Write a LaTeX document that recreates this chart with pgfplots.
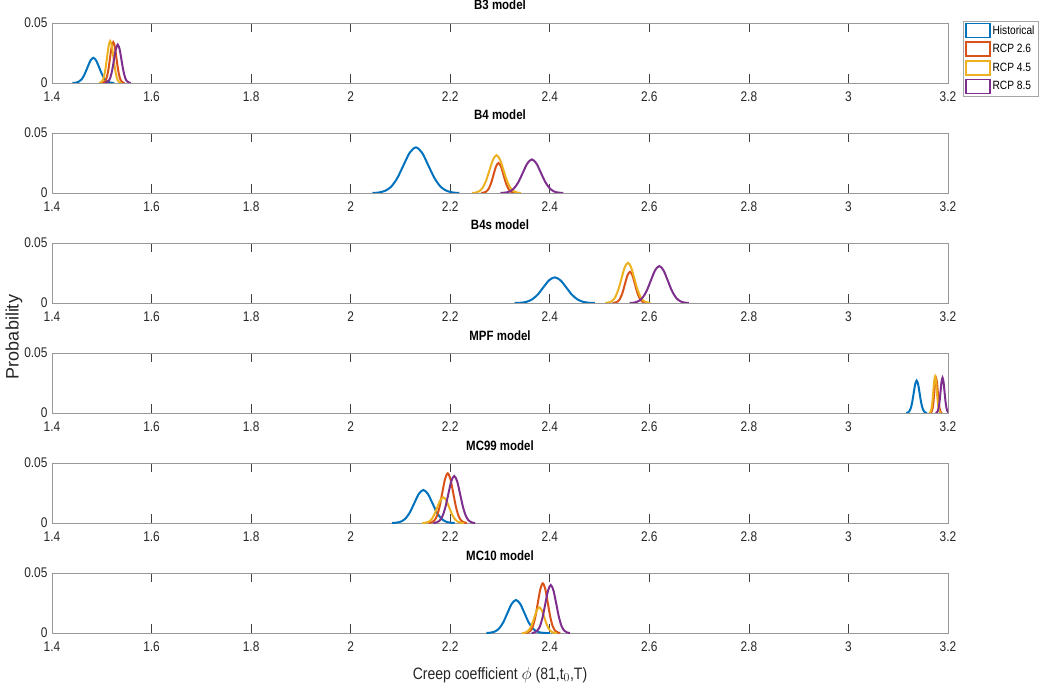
\documentclass[border=0pt]{standalone}
\usepackage{fontspec}
\setmainfont{Liberation Sans}
\newfontfamily\narrowfont[FakeStretch=0.85]{Liberation Sans}
\usepackage{pgfplots}
\pgfplotsset{compat=1.18}
\definecolor{c1}{rgb}{0,0.447,0.741}
\definecolor{c2}{rgb}{0.85,0.325,0.098}
\definecolor{c3}{rgb}{0.929,0.694,0.125}
\definecolor{c4}{rgb}{0.494,0.184,0.556}
\pgfplotsset{panel/.style={
  scale only axis, width=896pt, height=60pt, anchor=north west,
  xmin=1.4, xmax=3.2, ymin=0, ymax=0.05,
  xtick={1.4,1.6,1.8,2,2.2,2.4,2.6,2.8,3,3.2},
  xticklabels={1.4,1.6,1.8,2,2.2,2.4,2.6,2.8,3,3.2},
  ytick={0,0.05}, yticklabels={0,0.05},
  scaled y ticks=false,
  /pgf/number format/assume math mode=true,
  axis line style={black!40, line width=0.8pt},
  major tick length=9pt,
  tick style={black!75, line width=0.8pt},
  tick label style={font=\narrowfont\fontsize{14}{15}\selectfont, text=black!85},
  xticklabel style={yshift=-5pt},
  yticklabel style={xshift=-1pt},
  title style={font=\narrowfont\bfseries\fontsize{13.5}{14}\selectfont, at={(0.5,1)}, anchor=base, yshift=7pt, inner sep=0pt},
  every axis plot/.append style={line width=2pt, smooth, no markers},
}}
\begin{document}
\begin{tikzpicture}
\useasboundingbox (0pt,0pt) rectangle (1040pt,-692pt);
% ---------------- B3
\begin{axis}[panel, at={(52pt,-23pt)}, title={B3 model},
  legend style={at={(1.017,1.03)}, anchor=north west, draw=black!35, fill=white,
    font=\narrowfont\fontsize{12}{13}\selectfont, inner sep=1.5pt, row sep=3pt, cells={anchor=west}},
  legend image code/.code={\draw[#1, line width=1.6pt] (0pt,-7pt) rectangle (24pt,7pt);}]
\addplot[c1] coordinates {(1.441,0) (1.447,0.0002) (1.453,0.0009) (1.459,0.0028) (1.465,0.0068) (1.471,0.0127) (1.477,0.0185) (1.483,0.021) (1.489,0.0185) (1.495,0.0127) (1.501,0.0068) (1.507,0.0028) (1.513,0.0009) (1.519,0.0002) (1.525,0)};
\addplot[c2] coordinates {(1.5003,0) (1.5035,0.0004) (1.5068,0.0015) (1.51,0.0046) (1.5133,0.0110) (1.5165,0.0206) (1.5198,0.0300) (1.523,0.034) (1.5263,0.0300) (1.5295,0.0206) (1.5328,0.0110) (1.536,0.0046) (1.5393,0.0015) (1.5425,0.0004) (1.5458,0)};
\addplot[c3] coordinates {(1.4943,0) (1.4975,0.0004) (1.5008,0.0015) (1.504,0.0047) (1.5073,0.0114) (1.5105,0.0212) (1.5138,0.0309) (1.517,0.035) (1.5203,0.0309) (1.5235,0.0212) (1.5268,0.0114) (1.53,0.0047) (1.5333,0.0015) (1.5365,0.0004) (1.5398,0)};
\addplot[c4] coordinates {(1.5058,0) (1.5095,0.0004) (1.5133,0.0014) (1.517,0.0043) (1.5208,0.0104) (1.5245,0.0194) (1.5283,0.0282) (1.532,0.032) (1.5358,0.0282) (1.5395,0.0194) (1.5433,0.0104) (1.547,0.0043) (1.5508,0.0014) (1.5545,0.0004) (1.5583,0)};
\legend{Historical, RCP 2.6, RCP 4.5, RCP 8.5}
\end{axis}
% ---------------- B4
\begin{axis}[panel, at={(52pt,-133pt)}, title={B4 model}]
\addplot[c1] coordinates {(2.0435,0) (2.056,0.0004) (2.0685,0.0017) (2.081,0.0051) (2.0935,0.0123) (2.106,0.0230) (2.1185,0.0335) (2.131,0.038) (2.1435,0.0335) (2.156,0.0230) (2.1685,0.0123) (2.181,0.0051) (2.1935,0.0017) (2.206,0.0004) (2.2185,0)};
\addplot[c2] coordinates {(2.262,0) (2.267,0.0003) (2.272,0.0011) (2.277,0.0034) (2.282,0.0081) (2.287,0.0152) (2.292,0.0221) (2.297,0.025) (2.302,0.0221) (2.307,0.0152) (2.312,0.0081) (2.317,0.0034) (2.322,0.0011) (2.327,0.0003) (2.332,0)};
\addplot[c3] coordinates {(2.244,0) (2.251,0.0003) (2.258,0.0014) (2.265,0.0043) (2.272,0.0102) (2.279,0.0191) (2.286,0.0278) (2.293,0.0315) (2.300,0.0278) (2.307,0.0191) (2.314,0.0102) (2.321,0.0043) (2.328,0.0014) (2.335,0.0003) (2.342,0)};
\addplot[c4] coordinates {(2.301,0) (2.31,0.0003) (2.319,0.0012) (2.328,0.0038) (2.337,0.0091) (2.346,0.0170) (2.355,0.0247) (2.364,0.028) (2.373,0.0247) (2.382,0.0170) (2.391,0.0091) (2.4,0.0038) (2.409,0.0012) (2.418,0.0003) (2.427,0)};
\end{axis}
% ---------------- B4s
\begin{axis}[panel, at={(52pt,-243pt)}, title={B4s model}]
\addplot[c1] coordinates {(2.3295,0) (2.341,0.0002) (2.3525,0.0009) (2.364,0.0029) (2.3755,0.0069) (2.387,0.0130) (2.3985,0.0189) (2.41,0.0214) (2.4215,0.0189) (2.433,0.0130) (2.4445,0.0069) (2.456,0.0029) (2.4675,0.0009) (2.479,0.0002) (2.4905,0)};
\addplot[c2] coordinates {(2.526,0) (2.531,0.0003) (2.536,0.0011) (2.541,0.0035) (2.546,0.0084) (2.551,0.0158) (2.556,0.0229) (2.561,0.026) (2.566,0.0229) (2.571,0.0158) (2.576,0.0084) (2.581,0.0035) (2.586,0.0011) (2.591,0.0003) (2.596,0)};
\addplot[c3] coordinates {(2.5115,0) (2.518,0.0004) (2.5245,0.0015) (2.531,0.0045) (2.5375,0.0109) (2.544,0.0203) (2.5505,0.0296) (2.557,0.0335) (2.5635,0.0296) (2.57,0.0203) (2.5765,0.0109) (2.583,0.0045) (2.5895,0.0015) (2.596,0.0004) (2.6025,0)};
\addplot[c4] coordinates {(2.5605,0) (2.569,0.0003) (2.5775,0.0014) (2.586,0.0042) (2.5945,0.0100) (2.603,0.0187) (2.6115,0.0272) (2.62,0.0308) (2.6285,0.0272) (2.637,0.0187) (2.6455,0.0100) (2.654,0.0042) (2.6625,0.0014) (2.671,0.0003) (2.6795,0)};
\end{axis}
% ---------------- MPF
\begin{axis}[panel, at={(52pt,-353pt)}, title={MPF model}]
\addplot[c1] coordinates {(3.116,0) (3.119,0.0003) (3.122,0.0012) (3.125,0.0037) (3.128,0.0088) (3.131,0.0164) (3.134,0.0238) (3.137,0.027) (3.14,0.0238) (3.143,0.0164) (3.146,0.0088) (3.149,0.0037) (3.152,0.0012) (3.155,0.0003) (3.158,0)};
\addplot[c2] coordinates {(3.1638,0) (3.1655,0.0003) (3.1673,0.0013) (3.169,0.0039) (3.1708,0.0094) (3.1725,0.0176) (3.1743,0.0256) (3.176,0.029) (3.1778,0.0256) (3.1795,0.0176) (3.1813,0.0094) (3.183,0.0039) (3.1848,0.0013) (3.1865,0.0003) (3.1883,0)};
\addplot[c3] coordinates {(3.1618,0) (3.1635,0.0003) (3.1653,0.0013) (3.167,0.0041) (3.1688,0.0098) (3.1705,0.0184) (3.1723,0.0267) (3.174,0.0303) (3.1758,0.0267) (3.1775,0.0184) (3.1793,0.0098) (3.181,0.0041) (3.1828,0.0013) (3.1845,0.0003) (3.1863,0)};
\addplot[c4] coordinates {(3.175,0) (3.177,0.0003) (3.179,0.0013) (3.181,0.0040) (3.183,0.0095) (3.185,0.0178) (3.187,0.0259) (3.189,0.0294) (3.191,0.0259) (3.193,0.0178) (3.195,0.0095) (3.197,0.0040) (3.199,0.0013) (3.201,0.0003) (3.203,0)};
\end{axis}
% ---------------- MC99
\begin{axis}[panel, at={(52pt,-463pt)}, title={MC99 model}]
\addplot[c1] coordinates {(2.083,0) (2.092,0.0003) (2.101,0.0012) (2.11,0.0037) (2.119,0.0089) (2.128,0.0167) (2.137,0.0243) (2.146,0.0275) (2.155,0.0243) (2.164,0.0167) (2.173,0.0089) (2.182,0.0037) (2.191,0.0012) (2.2,0.0003) (2.209,0)};
\addplot[c2] coordinates {(2.1565,0) (2.162,0.0005) (2.1675,0.0018) (2.173,0.0056) (2.1785,0.0134) (2.184,0.0251) (2.1895,0.0365) (2.195,0.0414) (2.2005,0.0365) (2.206,0.0251) (2.2115,0.0134) (2.217,0.0056) (2.2225,0.0018) (2.228,0.0005) (2.2335,0)};
\addplot[c3] coordinates {(2.144,0) (2.15,0.0002) (2.156,0.0009) (2.162,0.0029) (2.168,0.0069) (2.174,0.0130) (2.18,0.0189) (2.186,0.0214) (2.192,0.0189) (2.198,0.0130) (2.204,0.0069) (2.21,0.0029) (2.216,0.0009) (2.222,0.0002) (2.228,0)};
\addplot[c4] coordinates {(2.166,0) (2.172,0.0004) (2.178,0.0017) (2.184,0.0053) (2.19,0.0127) (2.196,0.0238) (2.202,0.0346) (2.208,0.0392) (2.214,0.0346) (2.22,0.0238) (2.226,0.0127) (2.232,0.0053) (2.238,0.0017) (2.244,0.0004) (2.25,0)};
\end{axis}
% ---------------- MC10
\begin{axis}[panel, at={(52pt,-573pt)}, title={MC10 model}]
\addplot[c1] coordinates {(2.2725,0) (2.281,0.0003) (2.2895,0.0012) (2.298,0.0037) (2.3065,0.0089) (2.315,0.0167) (2.3235,0.0243) (2.332,0.0275) (2.3405,0.0243) (2.349,0.0167) (2.3575,0.0089) (2.366,0.0037) (2.3745,0.0012) (2.383,0.0003) (2.3915,0) (2.40,0)};
\addplot[c2] coordinates {(2.351,0) (2.356,0.0005) (2.361,0.0018) (2.366,0.0056) (2.371,0.0134) (2.376,0.0251) (2.381,0.0365) (2.386,0.0414) (2.391,0.0365) (2.396,0.0251) (2.401,0.0134) (2.406,0.0056) (2.411,0.0018) (2.416,0.0005) (2.421,0)};
\addplot[c3] coordinates {(2.344,0) (2.349,0.0002) (2.354,0.0009) (2.359,0.0029) (2.364,0.0069) (2.369,0.0130) (2.374,0.0189) (2.379,0.0214) (2.384,0.0189) (2.389,0.0130) (2.394,0.0069) (2.399,0.0029) (2.404,0.0009) (2.409,0.0002) (2.414,0)};
\addplot[c4] coordinates {(2.3635,0) (2.369,0.0004) (2.3745,0.0018) (2.38,0.0054) (2.3855,0.0130) (2.391,0.0243) (2.3965,0.0353) (2.402,0.040) (2.4075,0.0353) (2.413,0.0243) (2.4185,0.0130) (2.424,0.0054) (2.4295,0.0018) (2.435,0.0004) (2.4405,0)};
\end{axis}
\node[rotate=90, font=\fontsize{18}{20}\selectfont, text=black!85] at (14pt,-337pt) {Probability};
\node[font=\narrowfont\fontsize{16.5}{18}\selectfont, text=black!85] at (500pt,-675pt) {Creep coefficient $\phi$ (81,t$_0$,T)};
\end{tikzpicture}
\end{document}
